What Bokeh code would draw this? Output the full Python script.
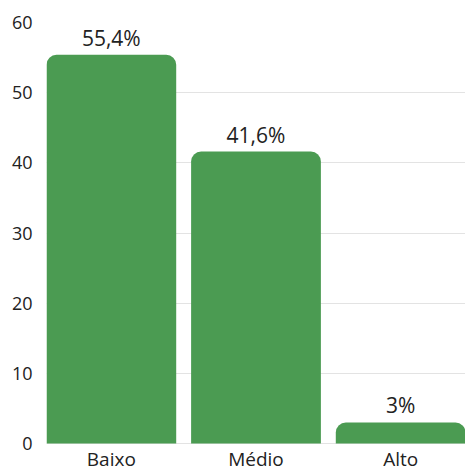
from bokeh.plotting import figure
from bokeh.models import ColumnDataSource, FixedTicker, Range1d, LabelSet
from bokeh.embed import file_html
from bokeh.resources import INLINE
from bokeh.core.properties import value

# Share of respondents per level
categories = ["Baixo", "Médio", "Alto"]
shares = [55.4, 41.6, 3.0]
share_labels = ["55,4%", "41,6%", "3%"]
y_ticks = [0, 10, 20, 30, 40, 50, 60]

FONT = "Open Sans"
TEXT = "#222222"
GREEN = "#4b9b52"

xs = list(range(len(categories)))
src = ColumnDataSource(dict(x=xs, top=shares, label=share_labels,
                            cat=categories, base=[0] * len(categories)))

# the frame runs a little below zero so the category names fit inside it
p = figure(width=465, height=471, output_backend="svg", toolbar_location=None,
           x_range=Range1d(-0.448, len(categories) - 1 + 0.448),
           y_range=Range1d(-3.99, 60))
p.min_border_left = 46
p.min_border_right = 0
p.min_border_top = 22
p.min_border_bottom = 0
p.outline_line_color = None
p.background_fill_color = "white"
p.border_fill_color = "white"

p.vbar(x="x", top="top", bottom=0, width=0.897, source=src,
       fill_color=GREEN, line_color=None, border_radius=(10, 10, 0, 0))

# value labels above each bar
p.text(x="x", y="top", text="label", source=src, text_align="center",
       text_baseline="bottom", y_offset=-3, text_font=value(FONT),
       text_font_size="21px", text_color=TEXT)

# category names under the baseline
cat_labels = LabelSet(x="x", y="base", text="cat", source=src,
                      text_align="center", text_baseline="top", y_offset=-2,
                      text_font=value(FONT), text_font_size="19px",
                      text_color=TEXT, level="overlay")
p.add_layout(cat_labels)

p.xgrid.grid_line_color = None
p.ygrid.grid_line_color = "#e3e3e3"
p.ygrid.ticker = FixedTicker(ticks=y_ticks)

p.xaxis.visible = False
p.yaxis.ticker = FixedTicker(ticks=y_ticks)
ax = p.yaxis[0]
ax.axis_line_color = None
ax.major_tick_line_color = None
ax.minor_tick_line_color = None
ax.major_tick_out = 0
ax.major_tick_in = 0
ax.minor_tick_out = 0
ax.minor_tick_in = 0
ax.major_label_text_font = FONT
ax.major_label_text_color = TEXT
ax.major_label_text_font_size = "18px"
ax.major_label_standoff = 14

open("out.html", "w").write(file_html(p, INLINE))
